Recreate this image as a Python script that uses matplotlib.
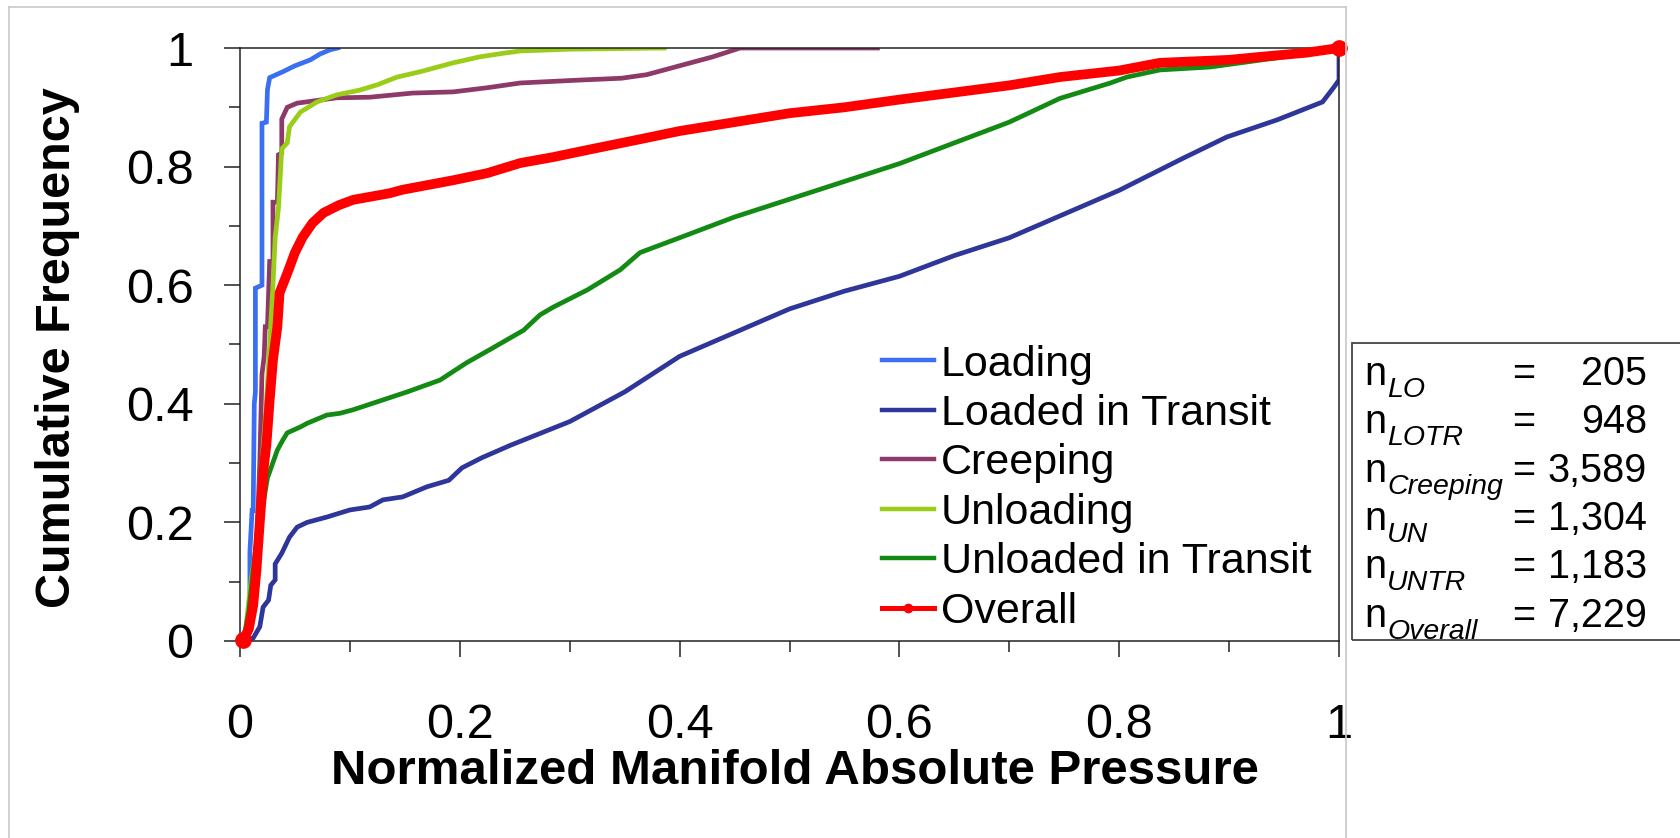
import numpy as np
import matplotlib
matplotlib.use("Agg")
import matplotlib.pyplot as plt
from matplotlib.lines import Line2D
from matplotlib.patches import Rectangle
from matplotlib.ticker import MultipleLocator, FixedLocator

plt.rcParams["font.family"] = ["Liberation Sans", "DejaVu Sans"]

# cumulative frequency curves, normalized MAP on x
lo_x = [0.003, 0.006, 0.008, 0.009, 0.009, 0.011, 0.012, 0.013, 0.014, 0.014, 0.020, 0.020,
        0.024, 0.025, 0.027, 0.033, 0.039, 0.050, 0.064, 0.073, 0.082, 0.089]
lo_y = [0.0, 0.02, 0.05, 0.05, 0.15, 0.22, 0.22, 0.40, 0.42, 0.595, 0.60, 0.873,
        0.875, 0.93, 0.95, 0.955, 0.96, 0.97, 0.98, 0.99, 0.997, 1.0]

lotr_x = [0.003, 0.012, 0.018, 0.021, 0.026, 0.028, 0.032, 0.032, 0.038, 0.045, 0.052, 0.061,
          0.079, 0.100, 0.118, 0.130, 0.148, 0.170, 0.190, 0.202, 0.220, 0.246, 0.30, 0.35,
          0.40, 0.45, 0.50, 0.55, 0.60, 0.65, 0.70, 0.75, 0.80, 0.858, 0.898, 0.944, 0.985,
          0.995, 1.0, 1.0]
lotr_y = [0.0, 0.005, 0.024, 0.057, 0.069, 0.094, 0.103, 0.13, 0.148, 0.175, 0.192, 0.20,
          0.209, 0.221, 0.226, 0.238, 0.243, 0.26, 0.271, 0.292, 0.309, 0.33, 0.37, 0.42,
          0.48, 0.52, 0.56, 0.59, 0.615, 0.65, 0.68, 0.72, 0.76, 0.814, 0.85, 0.879, 0.909,
          0.933, 0.946, 1.0]

cr_x = [0.003, 0.010, 0.015, 0.018, 0.020, 0.022, 0.023, 0.025, 0.027, 0.030, 0.030, 0.034,
        0.035, 0.038, 0.038, 0.043, 0.052, 0.088, 0.118, 0.157, 0.194, 0.225, 0.255, 0.31,
        0.347, 0.37, 0.40, 0.43, 0.455, 0.58]
cr_y = [0.0, 0.05, 0.15, 0.30, 0.45, 0.48, 0.53, 0.53, 0.64, 0.64, 0.74, 0.74,
        0.82, 0.823, 0.88, 0.90, 0.907, 0.916, 0.917, 0.924, 0.926, 0.933, 0.941, 0.946,
        0.949, 0.955, 0.97, 0.985, 1.0, 1.0]

un_x = [0.004, 0.010, 0.014, 0.018, 0.020, 0.024, 0.027, 0.030, 0.032, 0.035, 0.038, 0.043,
        0.045, 0.055, 0.070, 0.088, 0.109, 0.125, 0.143, 0.164, 0.194, 0.218, 0.239, 0.255,
        0.30, 0.386]
un_y = [0.0, 0.10, 0.15, 0.22, 0.30, 0.40, 0.50, 0.60, 0.68, 0.73, 0.83, 0.84,
        0.867, 0.892, 0.909, 0.921, 0.929, 0.938, 0.951, 0.96, 0.975, 0.985, 0.991, 0.995,
        0.998, 1.0]

untr_x = [0.003, 0.008, 0.012, 0.016, 0.020, 0.025, 0.034, 0.039, 0.043, 0.055, 0.061, 0.079,
          0.091, 0.103, 0.121, 0.152, 0.182, 0.206, 0.227, 0.258, 0.273, 0.285, 0.316, 0.346,
          0.364, 0.40, 0.45, 0.50, 0.55, 0.60, 0.65, 0.70, 0.746, 0.792, 0.807, 0.837, 0.883,
          0.93, 0.97, 1.0]
untr_y = [0.0, 0.05, 0.12, 0.18, 0.22, 0.275, 0.322, 0.339, 0.351, 0.361, 0.367, 0.381,
          0.384, 0.39, 0.401, 0.42, 0.44, 0.469, 0.491, 0.524, 0.55, 0.563, 0.592, 0.626,
          0.655, 0.68, 0.715, 0.745, 0.775, 0.805, 0.84, 0.875, 0.915, 0.941, 0.951, 0.963,
          0.968, 0.98, 0.99, 1.0]

all_x = [0.003, 0.008, 0.012, 0.015, 0.018, 0.020, 0.022, 0.024, 0.027, 0.030, 0.034, 0.036,
         0.043, 0.050, 0.057, 0.066, 0.076, 0.090, 0.103, 0.136, 0.148, 0.194, 0.225, 0.255,
         0.285, 0.316, 0.361, 0.40, 0.45, 0.50, 0.55, 0.60, 0.70, 0.746, 0.80, 0.837, 0.90,
         0.928, 0.97, 1.0]
all_y = [0.002, 0.02, 0.06, 0.12, 0.20, 0.25, 0.30, 0.33, 0.406, 0.474, 0.53, 0.587,
         0.62, 0.655, 0.681, 0.705, 0.722, 0.735, 0.744, 0.755, 0.761, 0.777, 0.789, 0.806,
         0.816, 0.828, 0.845, 0.86, 0.875, 0.89, 0.90, 0.913, 0.937, 0.951, 0.962, 0.975, 0.98,
         0.985, 0.992, 1.0]

labels = ["Loading", "Loaded in Transit", "Creeping", "Unloading",
          "Unloaded in Transit", "Overall"]
colors = ["#3a6ff2", "#2e3799", "#8e3a68", "#9acd17", "#138a13", "#ff0000"]

n_names = ["LO", "LOTR", "Creeping", "UN", "UNTR", "Overall"]
n_counts = ["205", "948", "3,589", "1,304", "1,183", "7,229"]

W, H = 1680, 838
fig = plt.figure(figsize=(W / 100, H / 100), dpi=100)
ax = fig.add_axes([240 / W, 1 - 641 / H, 1099 / W, 593 / H])

series = [(lo_x, lo_y), (lotr_x, lotr_y), (cr_x, cr_y), (un_x, un_y), (untr_x, untr_y)]
for (xs, ys), c in zip(series, colors[:5]):
    ax.plot(xs, ys, color=c, lw=3.4, solid_joinstyle="miter")
ax.plot(all_x, all_y, color=colors[5], lw=7, clip_on=False, zorder=5)
ax.plot([all_x[0], all_x[-1]], [all_y[0], all_y[-1]], "o", color=colors[5], ms=11,
        clip_on=False, zorder=6)

ax.set_xlim(0, 1)
ax.set_ylim(0, 1)
ax.xaxis.set_major_locator(FixedLocator([0, 0.2, 0.4, 0.6, 0.8, 1.0]))
ax.yaxis.set_major_locator(FixedLocator([0, 0.2, 0.4, 0.6, 0.8, 1.0]))
ax.xaxis.set_minor_locator(MultipleLocator(0.1))
ax.yaxis.set_minor_locator(MultipleLocator(0.1))
ax.xaxis.set_major_formatter(lambda v, p: f"{v:g}")
ax.yaxis.set_major_formatter(lambda v, p: f"{v:g}")
ax.tick_params(which="major", length=11.5, width=1.1, color="#222222", labelsize=35)
ax.tick_params(which="minor", length=8, width=1.1, color="#222222")
ax.tick_params(axis="x", which="major", pad=33)
ax.tick_params(axis="y", which="major", pad=22)
for s in ax.spines.values():
    s.set_linewidth(1.1)
    s.set_color("#222222")

ax.set_xlabel("Normalized Manifold Absolute Pressure", fontsize=35.5, fontweight="bold")
ax.set_ylabel("Cumulative Frequency", fontsize=35, fontweight="bold")
ax.xaxis.set_label_coords(0.505, -0.182)
ax.yaxis.set_label_coords(-0.146, 0.495)

handles = [Line2D([], [], color=c, lw=3.2) for c in colors[:5]]
handles.append(Line2D([], [], color=colors[5], lw=3.6, marker="o", ms=6))
ax.legend(handles, labels, loc="upper left", bbox_to_anchor=(0.584, 0.50),
          frameon=False, fontsize=31, handlelength=1.22, handletextpad=0.15,
          labelspacing=0.22, borderpad=0, borderaxespad=0)

# light outer border of the chart area
border = dict(color="#c8c8c8", lw=1.2, transform=fig.transFigure)
fig.add_artist(Line2D([9 / W, 9 / W], [0, 1 - 7 / H], **border))
fig.add_artist(Line2D([9 / W, 1346 / W], [1 - 7 / H, 1 - 7 / H], **border))
fig.add_artist(Line2D([1346 / W, 1346 / W], [0, 1 - 7 / H], **border))

# sample size box
fig.add_artist(Rectangle((1352 / W, 1 - 640 / H), 0.3, 297 / H, fill=False,
                         edgecolor="#444444", lw=1.3, transform=fig.transFigure))
baselines = [385, 433, 482, 530, 578, 627]
for name, cnt, b in zip(n_names, n_counts, baselines):
    yb = 1 - b / H
    fig.text(1364 / W, yb, "n", fontsize=28.5, va="baseline", ha="left")
    fig.text(1387 / W, 1 - (b + 12) / H, name, fontsize=20.5, style="italic",
             va="baseline", ha="left")
    fig.text(1512 / W, yb, "=", fontsize=28.5, va="baseline", ha="left")
    fig.text(1647 / W, yb, cnt, fontsize=28.5, va="baseline", ha="right")

fig.savefig("out.png", dpi=100)
